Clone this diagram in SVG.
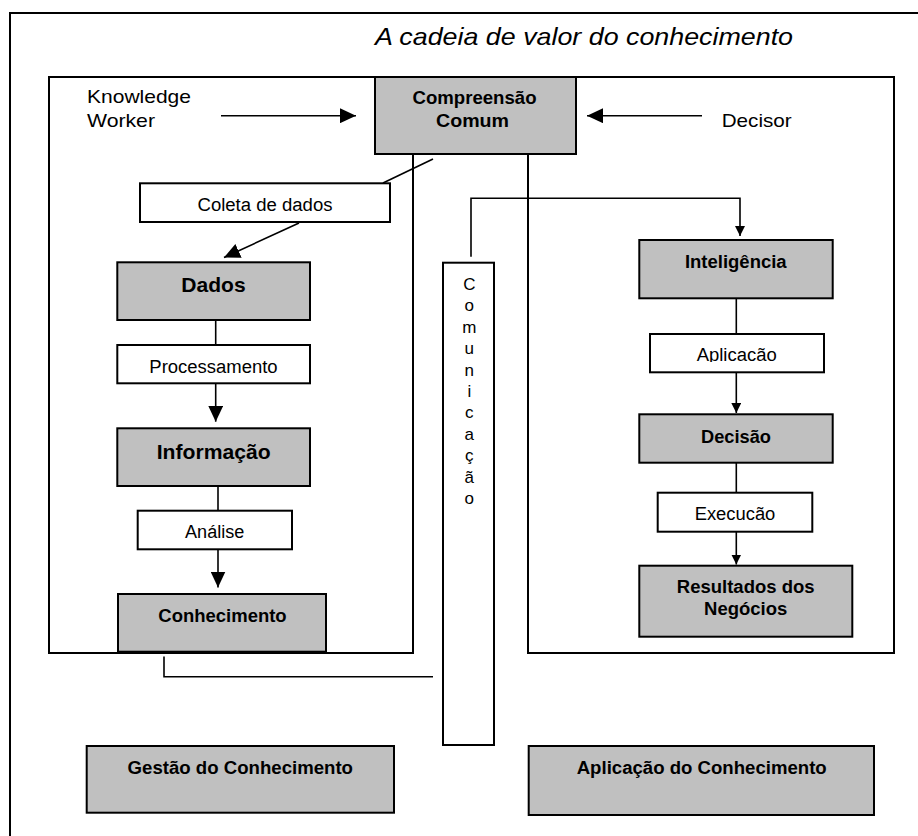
<svg xmlns="http://www.w3.org/2000/svg" width="918" height="836" viewBox="0 0 918 836">
<style>
.frame{fill:none;stroke:#000;stroke-width:2}
.gbox{fill:#c0c0c0;stroke:#000;stroke-width:2}
.wbox{fill:#fff;stroke:#000;stroke-width:2}
.ln{fill:none;stroke:#000;stroke-width:1.6}
text{font-family:"Liberation Sans",Arial,sans-serif;fill:#000}
.b{font-weight:bold;font-size:18px;text-anchor:middle}
.r{font-size:18px;text-anchor:middle}
.plain{font-size:19px}
.title{font-size:24px;font-style:italic}
.vert{font-size:17px;text-anchor:middle}
</style>
<defs>
<marker id="big" markerUnits="userSpaceOnUse" markerWidth="16" markerHeight="15" refX="16" refY="7.5" orient="auto">
<path d="M0,0 L16,7.5 L0,15 z" fill="#000"/>
</marker>
<marker id="small" markerUnits="userSpaceOnUse" markerWidth="10" markerHeight="10" refX="10" refY="5" orient="auto">
<path d="M0,0 L10,5 L0,10 z" fill="#000"/>
</marker>
<clipPath id="clipApl"><rect x="651" y="335" width="172" height="27"/></clipPath>
<clipPath id="clipExe"><rect x="659" y="494" width="152" height="27"/></clipPath>
</defs>

<g id="outer-frame">
<rect class="frame" x="10" y="13" width="920" height="840"/>
<text class="title" x="375" y="45" textLength="418" lengthAdjust="spacingAndGlyphs">A cadeia de valor do conhecimento</text>
</g>

<g id="frame-gestao">
<rect class="frame" x="49" y="77" width="364" height="576"/>
</g>
<g id="frame-aplicacao">
<rect class="frame" x="528" y="77" width="366" height="576"/>
</g>

<g id="connectors">
<line class="ln" x1="221" y1="115.7" x2="356" y2="115.7" marker-end="url(#big)"/>
<line class="ln" x1="702" y1="115.7" x2="587" y2="115.7" marker-end="url(#big)"/>
<line class="ln" x1="433" y1="159" x2="383" y2="183"/>
<line class="ln" x1="299" y1="223" x2="224" y2="257.5" marker-end="url(#big)"/>
<line class="ln" x1="215.7" y1="320" x2="215.7" y2="345"/>
<line class="ln" x1="215.7" y1="383" x2="215.7" y2="421.7" marker-end="url(#big)"/>
<line class="ln" x1="218" y1="486" x2="218" y2="510.7"/>
<line class="ln" x1="218" y1="549.3" x2="218" y2="587.5" marker-end="url(#big)"/>
<polyline class="ln" points="164,656.5 164,676.7 433,676.7"/>
<polyline class="ln" points="471,256.7 471,198.3 740,198.3 740,236" marker-end="url(#small)"/>
<line class="ln" x1="736.3" y1="298.3" x2="736.3" y2="334"/>
<line class="ln" x1="736.3" y1="372.3" x2="736.3" y2="413" marker-end="url(#small)"/>
<line class="ln" x1="736.3" y1="462.7" x2="736.3" y2="492.7"/>
<line class="ln" x1="736.3" y1="531.7" x2="736.3" y2="564.5" marker-end="url(#small)"/>
</g>

<g id="knowledge-worker">
<text class="plain" x="87" y="102.7" textLength="104" lengthAdjust="spacingAndGlyphs">Knowledge</text>
<text class="plain" x="87" y="126.7" textLength="68" lengthAdjust="spacingAndGlyphs">Worker</text>
</g>
<g id="decisor">
<text class="plain" x="721.7" y="126.7" textLength="70" lengthAdjust="spacingAndGlyphs">Decisor</text>
</g>

<g id="compreensao-comum">
<rect class="gbox" x="375" y="77" width="201" height="77"/>
<text class="b" x="474.5" y="104" textLength="124" lengthAdjust="spacingAndGlyphs">Compreensão</text>
<text class="b" x="472.5" y="127" textLength="73" lengthAdjust="spacingAndGlyphs">Comum</text>
</g>

<g id="coleta-de-dados">
<rect class="wbox" x="140" y="183.3" width="250" height="38.7"/>
<text class="r" x="265" y="211" textLength="135" lengthAdjust="spacingAndGlyphs">Coleta de dados</text>
</g>

<g id="dados">
<rect class="gbox" x="117.3" y="262.3" width="192.7" height="57.7"/>
<text class="b" x="213.5" y="292.3" style="font-size:21px" textLength="64.3" lengthAdjust="spacingAndGlyphs">Dados</text>
</g>

<g id="processamento">
<rect class="wbox" x="117.3" y="345" width="192.7" height="38.3"/>
<text class="r" x="213.5" y="372.7" textLength="128.3" lengthAdjust="spacingAndGlyphs">Processamento</text>
</g>

<g id="informacao">
<rect class="gbox" x="117.3" y="428.3" width="192.7" height="57.7"/>
<text class="b" x="213.7" y="459" style="font-size:21px" textLength="114" lengthAdjust="spacingAndGlyphs">Informação</text>
</g>

<g id="analise">
<rect class="wbox" x="137.7" y="510.7" width="154.3" height="38.6"/>
<text class="r" x="214.7" y="538.3" textLength="59.3" lengthAdjust="spacingAndGlyphs">Análise</text>
</g>

<g id="conhecimento">
<rect class="gbox" x="118" y="594" width="208" height="57.7"/>
<text class="b" x="222.5" y="621.7" style="font-size:18.5px" textLength="128.3" lengthAdjust="spacingAndGlyphs">Conhecimento</text>
</g>

<g id="comunicacao">
<rect class="wbox" x="443" y="262.7" width="51" height="482.3"/>
<text class="vert"><tspan x="469.3" y="290">C</tspan><tspan x="469.3" dy="21.4">o</tspan><tspan x="469.3" dy="21.4">m</tspan><tspan x="469.3" dy="21.4">u</tspan><tspan x="469.3" dy="21.4">n</tspan><tspan x="469.3" dy="21.4">i</tspan><tspan x="469.3" dy="21.4">c</tspan><tspan x="469.3" dy="21.4">a</tspan><tspan x="469.3" dy="21.4">ç</tspan><tspan x="469.3" dy="21.4">ã</tspan><tspan x="469.3" dy="21.4">o</tspan></text>
</g>

<g id="inteligencia">
<rect class="gbox" x="639.3" y="240" width="193.4" height="58.3"/>
<text class="b" x="735.8" y="267.7" textLength="101.7" lengthAdjust="spacingAndGlyphs">Inteligência</text>
</g>

<g id="aplicacao">
<rect class="wbox" x="650" y="334" width="174" height="38.3"/>
<text class="r" x="736.7" y="361" clip-path="url(#clipApl)" textLength="80" lengthAdjust="spacingAndGlyphs">Aplicacão</text>
</g>

<g id="decisao">
<rect class="gbox" x="639.3" y="414.3" width="193.4" height="48.4"/>
<text class="b" x="736" y="442.7" textLength="70" lengthAdjust="spacingAndGlyphs">Decisão</text>
</g>

<g id="execucao">
<rect class="wbox" x="657.7" y="492.7" width="154.6" height="39"/>
<text class="r" x="735" y="520" clip-path="url(#clipExe)" textLength="80.7" lengthAdjust="spacingAndGlyphs">Execucão</text>
</g>

<g id="resultados">
<rect class="gbox" x="639.3" y="565.7" width="213" height="71"/>
<text class="b" x="745.7" y="593.3" textLength="137.7" lengthAdjust="spacingAndGlyphs">Resultados dos</text>
<text class="b" x="745.7" y="615" textLength="83.3" lengthAdjust="spacingAndGlyphs">Negócios</text>
</g>

<g id="gestao-do-conhecimento">
<rect class="gbox" x="86.7" y="746" width="307.3" height="66.7"/>
<text class="b" x="240.3" y="774" textLength="225.4" lengthAdjust="spacingAndGlyphs">Gestão do Conhecimento</text>
</g>

<g id="aplicacao-do-conhecimento">
<rect class="gbox" x="528.7" y="746" width="345.3" height="69"/>
<text class="b" x="701.7" y="774" textLength="250" lengthAdjust="spacingAndGlyphs">Aplicação do Conhecimento</text>
</g>
</svg>
